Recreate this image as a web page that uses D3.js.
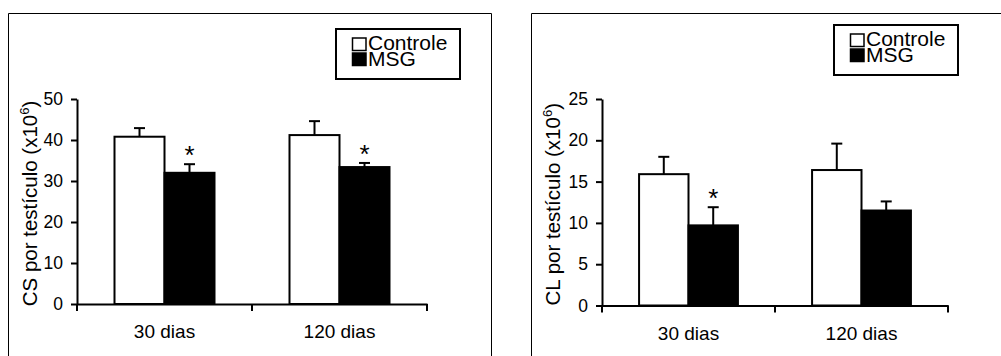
<!DOCTYPE html>
<html>
<head>
<meta charset="utf-8">
<script src="https://cdn.jsdelivr.net/npm/d3@7"></script>
<style>
  body { margin: 0; background: #fff; }
  svg { display: block; font-family: "Liberation Sans", Arial, sans-serif; }
</style>
</head>
<body>
<div class="chart"></div>
<script>
const categories = ['30 dias', '120 dias'];
const series = ['Controle', 'MSG'];

// CS por testículo (x10^6)
const csMeans = [[40.8, 32.0], [41.2, 33.4]];
const csErrors = [[2.1, 2.1], [3.4, 1.0]];
const csStars = [[false, true], [false, true]];
const csTicks = [0, 10, 20, 30, 40, 50];

// CL por testículo (x10^6)
const clMeans = [[15.9, 9.7], [16.4, 11.5]];
const clErrors = [[2.1, 2.2], [3.2, 1.1]];
const clStars = [[false, true], [false, false]];
const clTicks = [0, 5, 10, 15, 20, 25];

const svg = d3.select(".chart")
  .append("svg")
  .attr("width", 1001)
  .attr("height", 356);

function drawPanel(opts) {
  const { frame, left, right, top, bottom, ymax, ticks, means, errors, stars, label, labelX, legend } = opts;

  // outer frame (runs off the bottom)
  svg.append("path")
    .attr("d", `M${frame[0]},370 V${frame[1]} H${frame[2]} V370`)
    .attr("fill", "none")
    .attr("stroke", "#000")
    .attr("stroke-width", 1);

  const x = d3.scaleBand().domain(categories).range([left, right]).padding(0);
  const xs = d3.scaleBand().domain(series).range([0, x.bandwidth()])
    .paddingInner(0).paddingOuter(0.75);
  const y = d3.scaleLinear().domain([0, ymax]).range([bottom, top]);

  const g = svg.append("g");

  // bars
  categories.forEach((c, i) => {
    series.forEach((s, j) => {
      const bx = x(c) + xs(s);
      const bw = xs.bandwidth();
      const v = means[i][j];
      const e = errors[i][j];
      const cx = bx + bw / 2;

      // error bar (upper only)
      g.append("line")
        .attr("x1", cx).attr("x2", cx)
        .attr("y1", y(v)).attr("y2", y(v + e))
        .attr("stroke", "#000").attr("stroke-width", 2);
      g.append("line")
        .attr("x1", cx - 5.5).attr("x2", cx + 5.5)
        .attr("y1", y(v + e)).attr("y2", y(v + e))
        .attr("stroke", "#000").attr("stroke-width", 2);

      g.append("rect")
        .attr("x", bx)
        .attr("y", y(v))
        .attr("width", bw)
        .attr("height", y(0) - y(v))
        .attr("fill", j === 0 ? "#fff" : "#000")
        .attr("stroke", "#000")
        .attr("stroke-width", 2);

      if (stars[i][j]) {
        g.append("text")
          .attr("x", cx)
          .attr("y", y(v + e))
          .attr("text-anchor", "middle")
          .style("font-size", "26px")
          .text("*");
      }
    });
  });

  // y axis
  const yAxis = d3.axisLeft(y).tickValues(ticks).tickSize(6).tickSizeOuter(0).tickPadding(8);
  const ya = svg.append("g")
    .attr("transform", `translate(${left},0)`)
    .call(yAxis);
  ya.select(".domain").attr("stroke-width", 2);
  ya.selectAll(".tick line").attr("stroke-width", 2);
  ya.selectAll(".tick text").style("font-size", "17.5px").attr("fill", "#000");

  // x axis
  const xAxis = d3.axisBottom(x).tickSize(0).tickPadding(21);
  const xa = svg.append("g")
    .attr("transform", `translate(0,${bottom})`)
    .call(xAxis);
  xa.select(".domain").attr("stroke-width", 2);
  xa.selectAll(".tick text").style("font-size", "19px").attr("fill", "#000");
  // category boundary ticks
  [left, left + x.step(), right].forEach(tx => {
    xa.append("line")
      .attr("x1", tx).attr("x2", tx)
      .attr("y1", 0).attr("y2", 7)
      .attr("stroke", "#000").attr("stroke-width", 2);
  });

  // y label
  const yl = svg.append("text")
    .attr("transform", `translate(${labelX},${(top + bottom) / 2 + 2}) rotate(-90)`)
    .attr("text-anchor", "middle")
    .style("font-size", "20.5px");
  yl.append("tspan").text(label + " por testículo (x10");
  yl.append("tspan").attr("dy", -8).style("font-size", "13px").text("6");
  yl.append("tspan").attr("dy", 8).text(")");

  // legend
  const lg = svg.append("g").attr("transform", `translate(${legend[0]},${legend[1]})`);
  lg.append("rect")
    .attr("width", 124).attr("height", 50)
    .attr("fill", "#fff").attr("stroke", "#000").attr("stroke-width", 2);
  series.forEach((s, j) => {
    lg.append("rect")
      .attr("x", 16.5).attr("y", 9 + j * 15)
      .attr("width", 13.5).attr("height", 12.5)
      .attr("fill", j === 0 ? "#fff" : "#000")
      .attr("stroke", "#000").attr("stroke-width", 1.5);
    lg.append("text")
      .attr("x", 32).attr("y", 21 + j * 16)
      .style("font-size", "21px")
      .text(s);
  });
}

drawPanel({
  frame: [8.5, 13.5, 491.5],
  left: 77, right: 427, top: 99, bottom: 304,
  ymax: 50, ticks: csTicks,
  means: csMeans, errors: csErrors, stars: csStars,
  label: "CS", labelX: 37, legend: [336, 29]
});

drawPanel({
  frame: [531.5, 13.5, 1010],
  left: 602, right: 948, top: 99, bottom: 305.5,
  ymax: 25, ticks: clTicks,
  means: clMeans, errors: clErrors, stars: clStars,
  label: "CL", labelX: 560, legend: [834, 25]
});
</script>
</body>
</html>
